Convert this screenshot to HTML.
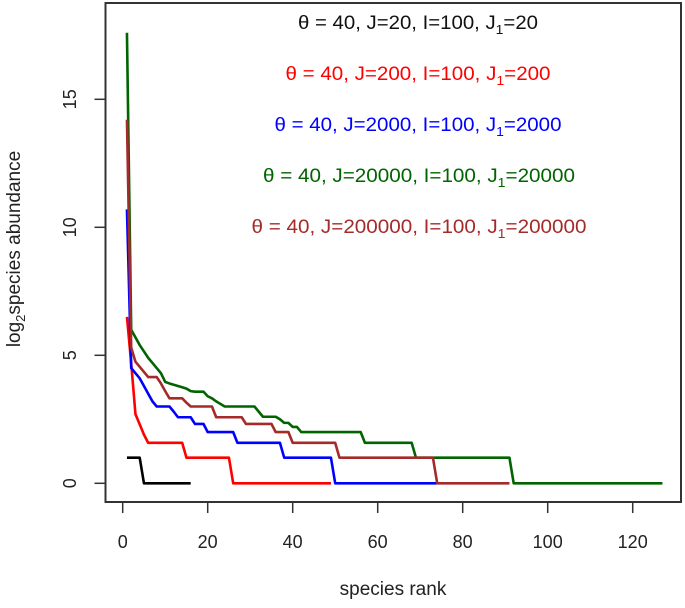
<!DOCTYPE html>
<html><head><meta charset="utf-8"><style>
html,body{margin:0;padding:0;background:#fff;}
svg{display:block;font-family:"Liberation Sans",Arial,sans-serif;}
</style></head><body>
<svg id="chart" width="685" height="608" viewBox="0 0 685 608" xmlns="http://www.w3.org/2000/svg">
<rect x="105.5" y="3" width="575.5" height="499" fill="none" stroke="#333" stroke-width="2"/>
<g id="xaxis"></g>
<g id="yaxis"></g>
<g id="series"></g>
<text x="393" y="595" font-size="19" text-anchor="middle" fill="#222">species rank</text>
<text transform="translate(20,249) rotate(-90)" font-size="19" text-anchor="middle" fill="#222">log<tspan font-size="13" dy="5">2</tspan><tspan dy="-5">species abundance</tspan></text>
<g font-size="19" text-anchor="middle">
<text x="418" y="29" fill="#111" textLength="240" lengthAdjust="spacingAndGlyphs">θ = 40, J=20, I=100, J<tspan font-size="13" dy="5">1</tspan><tspan dy="-5">=20</tspan></text>
<text x="418" y="80" fill="#ff0000" textLength="265" lengthAdjust="spacingAndGlyphs">θ = 40, J=200, I=100, J<tspan font-size="13" dy="5">1</tspan><tspan dy="-5">=200</tspan></text>
<text x="418" y="131" fill="#0000ff" textLength="287" lengthAdjust="spacingAndGlyphs">θ = 40, J=2000, I=100, J<tspan font-size="13" dy="5">1</tspan><tspan dy="-5">=2000</tspan></text>
<text x="419" y="182" fill="#006400" textLength="312" lengthAdjust="spacingAndGlyphs">θ = 40, J=20000, I=100, J<tspan font-size="13" dy="5">1</tspan><tspan dy="-5">=20000</tspan></text>
<text x="419" y="233" fill="#a52a2a" textLength="335" lengthAdjust="spacingAndGlyphs">θ = 40, J=200000, I=100, J<tspan font-size="13" dy="5">1</tspan><tspan dy="-5">=200000</tspan></text>
</g>
</svg>
<script>
const xTicks = [0, 20, 40, 60, 80, 100, 120];
const yTicks = [0, 5, 10, 15];
const seriesNames = ["j20", "j200", "j2000", "j20000", "j200000"];
const seriesColors = ["#000000", "#ff0000", "#0000ff", "#006400", "#a52a2a"];
const blackValues = [1,1,1,1,0,0,0,0,0,0,0,0,0,0,0,0];
const redValues = [6.5,4.7,2.7,2.3,1.9,1.58,1.58,1.58,1.58,1.58,1.58,1.58,1.58,1.58,1,1,1,1,1,1,1,1,1,1,1,0,0,0,0,0,0,0,0,0,0,0,0,0,0,0,0,0,0,0,0,0,0,0,0];
const blueValues = [10.7,4.5,4.3,4.1,3.8,3.5,3.2,3,3,3,3,2.8,2.58,2.58,2.58,2.58,2.32,2.32,2.32,2,2,2,2,2,2,2,1.58,1.58,1.58,1.58,1.58,1.58,1.58,1.58,1.58,1.58,1.58,1,1,1,1,1,1,1,1,1,1,1,1,0,0,0,0,0,0,0,0,0,0,0,0,0,0,0,0,0,0,0,0,0,0,0,0,0];
const greenValues = [17.6,6.0,5.7,5.4,5.15,4.9,4.7,4.5,4.3,3.96,3.9,3.85,3.8,3.75,3.7,3.6,3.58,3.58,3.58,3.4,3.32,3.2,3.1,3,3,3,3,3,3,3,3,2.8,2.6,2.6,2.6,2.6,2.5,2.36,2.36,2.2,2.2,2,2,2,2,2,2,2,2,2,2,2,2,2,2,2,1.58,1.58,1.58,1.58,1.58,1.58,1.58,1.58,1.58,1.58,1.58,1.58,1,1,1,1,1,1,1,1,1,1,1,1,1,1,1,1,1,1,1,1,1,1,1,0,0,0,0,0,0,0,0,0,0,0,0,0,0,0,0,0,0,0,0,0,0,0,0,0,0,0,0,0,0,0,0,0,0,0,0];
const brownValues = [14.2,5.3,4.75,4.55,4.35,4.15,4.15,4.15,3.9,3.6,3.32,3.32,3.32,3.32,3.15,3,3,3,3,3,3,2.58,2.58,2.58,2.58,2.58,2.58,2.58,2.32,2.32,2.32,2.32,2.32,2.32,2.32,2,2,2,2,1.58,1.58,1.58,1.58,1.58,1.58,1.58,1.58,1.58,1.58,1.58,1,1,1,1,1,1,1,1,1,1,1,1,1,1,1,1,1,1,1,1,1,1,1,0,0,0,0,0,0,0,0,0,0,0,0,0,0,0,0,0,0];

const NS = "http://www.w3.org/2000/svg";
function xs(r){ return 122.7 + r * 4.25; }
function ys(v){ return 483.3 - v * 25.6; }

const xg = document.getElementById('xaxis');
xTicks.forEach(t => {
  const l = document.createElementNS(NS, 'line');
  
  
  l.setAttribute('x1', xs(t)); l.setAttribute('x2', xs(t));
  l.setAttribute('y1', 502); l.setAttribute('y2', 513);
  l.setAttribute('stroke', '#333'); l.setAttribute('stroke-width', '1.5');
  xg.appendChild(l);
  const tx = document.createElementNS(NS, 'text');
  
  
  tx.setAttribute('x', xs(t)); tx.setAttribute('y', 548);
  tx.setAttribute('font-size', '18'); tx.setAttribute('text-anchor', 'middle'); tx.setAttribute('fill', '#222');
  tx.textContent = t;
  xg.appendChild(tx);
});
const yg = document.getElementById('yaxis');
yTicks.forEach(t => {
  const l = document.createElementNS(NS, 'line');
  
  
  l.setAttribute('x1', 94.5); l.setAttribute('x2', 105.5);
  l.setAttribute('y1', ys(t)); l.setAttribute('y2', ys(t));
  l.setAttribute('stroke', '#333'); l.setAttribute('stroke-width', '1.5');
  yg.appendChild(l);
  const tx = document.createElementNS(NS, 'text');
  
  
  tx.setAttribute('transform', 'translate(76,' + ys(t) + ') rotate(-90)');
  tx.setAttribute('font-size', '18'); tx.setAttribute('text-anchor', 'middle'); tx.setAttribute('fill', '#222');
  tx.textContent = t;
  yg.appendChild(tx);
});
const allValues = [blackValues, redValues, blueValues, greenValues, brownValues];
const sg = document.getElementById('series');
allValues.forEach((vals, i) => {
  const pts = vals.map((v, k) => xs(k + 1).toFixed(2) + ',' + ys(v).toFixed(2)).join(' ');
  const pl = document.createElementNS(NS, 'polyline');
  
  
  pl.setAttribute('points', pts);
  pl.setAttribute('fill', 'none');
  pl.setAttribute('stroke', seriesColors[i]);
  pl.setAttribute('stroke-width', '2.6');
  pl.setAttribute('stroke-linejoin', 'round');
  sg.appendChild(pl);
});
</script>
</body></html>
